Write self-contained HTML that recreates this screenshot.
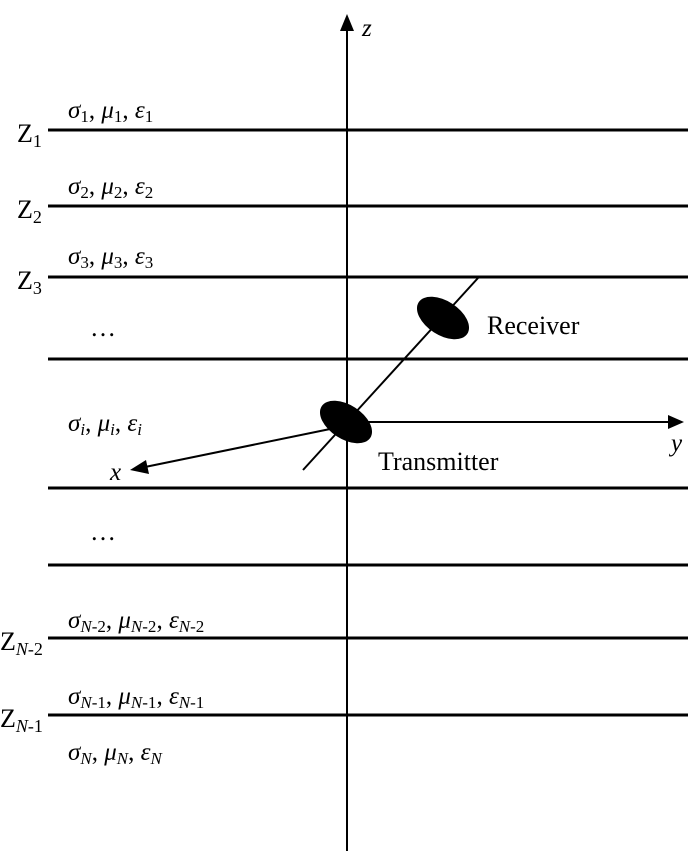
<!DOCTYPE html>
<html><head><meta charset="utf-8"><style>
html,body{margin:0;padding:0;background:#fff;}
svg{display:block;}
text{font-family:"Liberation Serif",serif;fill:#000;}
.g{font-size:25px;font-style:italic;}
.s{font-size:17px;}
.si{font-size:17px;font-style:italic;}
.z{font-size:26px;}
.zs{font-size:18px;}
.zsi{font-size:18px;font-style:italic;}
</style></head><body>
<svg width="700" height="851" viewBox="0 0 700 851" xmlns="http://www.w3.org/2000/svg">
<g stroke="#000" stroke-width="3">
<line x1="48" y1="130" x2="688" y2="130"/>
<line x1="48" y1="206" x2="688" y2="206"/>
<line x1="48" y1="277" x2="688" y2="277"/>
<line x1="48" y1="359" x2="688" y2="359"/>
<line x1="48" y1="488" x2="688" y2="488"/>
<line x1="48" y1="565" x2="688" y2="565"/>
<line x1="48" y1="638" x2="688" y2="638"/>
<line x1="48" y1="715" x2="688" y2="715"/>
</g>
<line x1="347" y1="28" x2="347" y2="851" stroke="#000" stroke-width="2"/>
<polygon points="347,14 340,31 354,31" fill="#000"/>
<line x1="303" y1="470" x2="478" y2="278" stroke="#000" stroke-width="2"/>
<line x1="347" y1="422" x2="670" y2="422" stroke="#000" stroke-width="2"/>
<polygon points="684,422 668,415 668,429" fill="#000"/>
<line x1="335" y1="428" x2="145" y2="467" stroke="#000" stroke-width="2"/>
<polygon points="130,470 146,460 149,474" fill="#000"/>
<ellipse cx="443" cy="318" rx="29" ry="17" transform="rotate(33 443 318)" fill="#000"/>
<ellipse cx="346" cy="422" rx="29" ry="17" transform="rotate(33 346 422)" fill="#000"/>
<text class="g" x="362" y="36">z</text>
<text class="g" x="671" y="451">y</text>
<text class="g" x="110" y="480">x</text>
<text class="z" x="487" y="334">Receiver</text>
<text class="z" x="378" y="470">Transmitter</text>
<text class="z" x="17" y="142">Z<tspan class="zs" dy="5">1</tspan></text>
<text class="z" x="17" y="218">Z<tspan class="zs" dy="5">2</tspan></text>
<text class="z" x="17" y="289">Z<tspan class="zs" dy="5">3</tspan></text>
<text class="z" x="0" y="650">Z<tspan class="zsi" dy="5">N</tspan><tspan class="zs">-2</tspan></text>
<text class="z" x="0" y="727">Z<tspan class="zsi" dy="5">N</tspan><tspan class="zs">-1</tspan></text>
<text class="g" x="68" y="118">σ<tspan class="s" font-style="normal" dy="4">1</tspan><tspan dy="-4" font-style="normal">, </tspan>μ<tspan class="s" font-style="normal" dy="4">1</tspan><tspan dy="-4" font-style="normal">, </tspan>ε<tspan class="s" font-style="normal" dy="4">1</tspan></text>
<text class="g" x="68" y="194">σ<tspan class="s" font-style="normal" dy="4">2</tspan><tspan dy="-4" font-style="normal">, </tspan>μ<tspan class="s" font-style="normal" dy="4">2</tspan><tspan dy="-4" font-style="normal">, </tspan>ε<tspan class="s" font-style="normal" dy="4">2</tspan></text>
<text class="g" x="68" y="264">σ<tspan class="s" font-style="normal" dy="4">3</tspan><tspan dy="-4" font-style="normal">, </tspan>μ<tspan class="s" font-style="normal" dy="4">3</tspan><tspan dy="-4" font-style="normal">, </tspan>ε<tspan class="s" font-style="normal" dy="4">3</tspan></text>
<text class="z" x="90" y="336">…</text>
<text class="g" x="68" y="431">σ<tspan class="si" dy="4">i</tspan><tspan dy="-4" font-style="normal">, </tspan>μ<tspan class="si" dy="4">i</tspan><tspan dy="-4" font-style="normal">, </tspan>ε<tspan class="si" dy="4">i</tspan></text>
<text class="z" x="90" y="540">…</text>
<text class="g" x="68" y="628">σ<tspan class="si" dy="4">N</tspan><tspan class="s" font-style="normal">-2</tspan><tspan dy="-4" font-style="normal">, </tspan>μ<tspan class="si" dy="4">N</tspan><tspan class="s" font-style="normal">-2</tspan><tspan dy="-4" font-style="normal">, </tspan>ε<tspan class="si" dy="4">N</tspan><tspan class="s" font-style="normal">-2</tspan></text>
<text class="g" x="68" y="704">σ<tspan class="si" dy="4">N</tspan><tspan class="s" font-style="normal">-1</tspan><tspan dy="-4" font-style="normal">, </tspan>μ<tspan class="si" dy="4">N</tspan><tspan class="s" font-style="normal">-1</tspan><tspan dy="-4" font-style="normal">, </tspan>ε<tspan class="si" dy="4">N</tspan><tspan class="s" font-style="normal">-1</tspan></text>
<text class="g" x="68" y="760">σ<tspan class="si" dy="4">N</tspan><tspan dy="-4" font-style="normal">, </tspan>μ<tspan class="si" dy="4">N</tspan><tspan dy="-4" font-style="normal">, </tspan>ε<tspan class="si" dy="4">N</tspan></text>
</svg>
</body></html>
